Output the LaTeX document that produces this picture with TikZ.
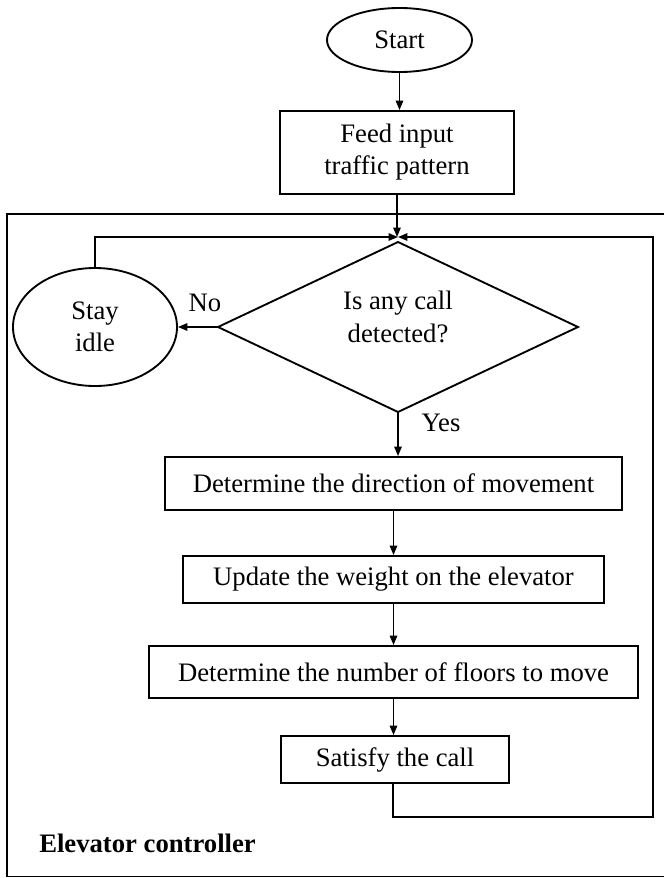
\documentclass[tikz,border=0pt]{standalone}
\usepackage{fontspec}
\setmainfont{Liberation Serif}
\usetikzlibrary{shapes.geometric,arrows.meta}
\tikzset{
  base/.style={draw=black, line width=1.4pt, inner sep=0pt, align=center, font=\fontsize{20}{24}\selectfont},
  procbox/.style={base, rectangle},
  termshape/.style={base, ellipse},
  decshape/.style={base, diamond},
  conn/.style={line width=1.2pt, -{Triangle[length=7pt,width=5.5pt]}},
  plainline/.style={line width=1.2pt},
  lbl/.style={font=\fontsize{20}{24}\selectfont, inner sep=0pt},
}
\begin{document}
\begin{tikzpicture}[x=0.75pt, y=-0.75pt]
\useasboundingbox (0,0) rectangle (664,878);
% frame
\draw[line width=1.4pt] (664,214) -- (7,214) -- (7,876.5) -- (664,876.5);
% nodes
\node[termshape, minimum width=108.75pt, minimum height=48pt] (start) at (399.5,40) {Start};
\node[procbox, minimum width=175.5pt, minimum height=62.25pt] (feed) at (397,152.5) {Feed input\\traffic pattern};
\node[decshape, minimum width=270pt, minimum height=127.5pt, outer sep=0pt] (dec) at (398,327) {};
\node[lbl, align=center, font=\fontsize{20}{24.5}\selectfont] (dectext) at (398,317) {Is any call\\detected?};
\node[termshape, minimum width=123pt, minimum height=88.5pt] (stay) at (95,327) {Stay\\idle};
\node[procbox, minimum width=342.75pt, minimum height=39.75pt] (det) at (393.5,483.5) {Determine the direction of movement};
\node[procbox, minimum width=315.75pt, minimum height=35.25pt] (upd) at (393.5,579.5) {Update the weight on the elevator};
\node[procbox, minimum width=366.75pt, minimum height=39pt] (flr) at (393.5,672) {Determine the number of floors to move};
\node[procbox, minimum width=171pt, minimum height=35.25pt] (sat) at (395,759.5) {Satisfy the call};
% labels
\node[lbl] (no) at (205,303) {No};
\node[lbl] (yes) at (441,423) {Yes};
\node[lbl, anchor=west, font=\fontsize{20}{24}\selectfont\bfseries] (ctrl) at (39,843) {Elevator controller};
% junction and loop corners
\coordinate (J) at (398,237);
\coordinate (LB) at (653,817);
% connectors
\draw[conn] (start.south) -- (start.south |- feed.north);
\draw[conn] (feed.south) -- (feed.south |- J);
\draw[conn] (dec.west) -- (stay.east);
\draw[conn] (dec.south) -- (dec.south |- det.north);
\draw[conn] (det.south) -- (upd.north);
\draw[conn] (upd.south) -- (flr.north);
\draw[conn] (flr.south) -- (flr.south |- sat.north);
\draw[conn] ([xshift=-1.5pt]sat.south) |- (LB) |- (J);
\draw[conn] (stay.north) |- (J);
\end{tikzpicture}
\end{document}
